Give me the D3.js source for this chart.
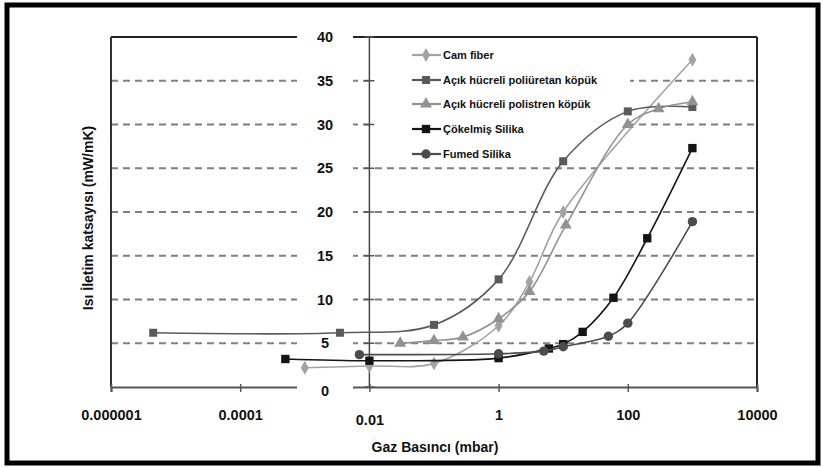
<!DOCTYPE html>
<html><head><meta charset="utf-8">
<script src="https://cdn.jsdelivr.net/npm/d3@7"></script>
<style>
html,body{margin:0;padding:0;background:#fff;}
text{font-family:"Liberation Sans",Arial,sans-serif;}
</style></head>
<body>
<svg id="chart" width="823" height="468"></svg>
<script>
// ---- data ----
const xTickValues = [1e-6, 1e-4, 1e-2, 1, 100, 10000];
const xTickLabels = ["0.000001", "0.0001", "0.01", "1", "100", "10000"];
const yTickValues = [0, 5, 10, 15, 20, 25, 30, 35, 40];
const seriesNames = ["Cam fiber", "Açık hücreli poliüretan köpük", "Açık hücreli polistren köpük", "Çökelmiş Silika", "Fumed Silika"];

const camX = [0.001, 0.01, 0.1, 1, 3, 10, 1000];
const camY = [2.2, 2.4, 2.7, 7.0, 12.0, 20.0, 37.4];
const puX = [4.5e-6, 0.0035, 0.1, 1, 10, 100, 1000];
const puY = [6.2, 6.2, 7.1, 12.3, 25.8, 31.5, 32.0];
const psX = [0.03, 0.1, 0.28, 1, 3, 11, 100, 300, 1000];
const psY = [5.0, 5.3, 5.7, 7.8, 10.9, 18.5, 30.0, 31.8, 32.6];
const prX = [0.0005, 0.01, 1, 6, 10, 20, 60, 200, 1000];
const prY = [3.2, 3.0, 3.3, 4.4, 4.9, 6.3, 10.2, 17.0, 27.3];
const fuX = [0.007, 1, 5, 10, 50, 100, 1000];
const fuY = [3.7, 3.8, 4.1, 4.6, 5.8, 7.3, 18.9];

// ---- setup ----
const svg = d3.select("#chart");
const L = 111, R = 757, T = 37, B = 387;
const x = d3.scaleLog().domain([1e-6, 1e4]).range([L, R]);
const y = d3.scaleLinear().domain([0, 40]).range([B, T]);

const styles = [
  {color: "#a3a3a3", sym: d3.symbolDiamond, size: 55},
  {color: "#5a5a5a", sym: d3.symbolSquare, size: 64},
  {color: "#929292", sym: d3.symbolTriangle, size: 62},
  {color: "#151515", sym: d3.symbolSquare, size: 70},
  {color: "#4c4c4c", sym: d3.symbolCircle, size: 70}
];
const series = [
  camX.map((v, i) => [v, camY[i]]),
  puX.map((v, i) => [v, puY[i]]),
  psX.map((v, i) => [v, psY[i]]),
  prX.map((v, i) => [v, prY[i]]),
  fuX.map((v, i) => [v, fuY[i]])
];

// outer frame
svg.append("rect").attr("x", 7).attr("y", 5).attr("width", 811).attr("height", 458)
  .attr("fill", "none").attr("stroke", "#000").attr("stroke-width", 5);

// gridlines
svg.append("g").selectAll("line").data(yTickValues.filter(v => v > 0 && v < 40)).join("line")
  .attr("x1", L).attr("x2", R).attr("y1", d => y(d)).attr("y2", d => y(d))
  .attr("stroke", "#7f7f7f").attr("stroke-width", 2).attr("stroke-dasharray", "7,5");

// plot frame
svg.append("line").attr("x1", L).attr("x2", R).attr("y1", T).attr("y2", T).attr("stroke", "#222").attr("stroke-width", 2);
svg.append("line").attr("x1", L).attr("x2", L).attr("y1", T).attr("y2", B).attr("stroke", "#333").attr("stroke-width", 2);
svg.append("line").attr("x1", R).attr("x2", R).attr("y1", T).attr("y2", B).attr("stroke", "#222").attr("stroke-width", 2);

// x axis
const xAxis = d3.axisBottom(x).tickValues(xTickValues)
  .tickFormat((d, i) => xTickLabels[i]).tickSize(5).tickPadding(18);
const gx = svg.append("g").attr("transform", `translate(0,${B})`).call(xAxis);
gx.select(".domain").attr("stroke", "#555").attr("stroke-width", 2);
gx.selectAll(".tick line").attr("stroke", "#555").attr("stroke-width", 1.5).attr("y1", -3);
gx.selectAll(".tick text").attr("font-size", 14.5).attr("font-weight", "bold")
  .attr("fill", "#111").attr("font-family", "Liberation Sans, Arial, sans-serif");
gx.selectAll(".tick").filter(d => d === 0.01).select("text").attr("dy", "1.05em");

// vertical axis at 0.01
svg.append("line").attr("x1", x(0.01)).attr("x2", x(0.01)).attr("y1", T).attr("y2", B)
  .attr("stroke", "#444").attr("stroke-width", 1.5);
svg.append("g").selectAll("line").data(yTickValues).join("line")
  .attr("x1", x(0.01) - 5).attr("x2", x(0.01) + 5).attr("y1", d => y(d)).attr("y2", d => y(d))
  .attr("stroke", "#555").attr("stroke-width", 1.5);

// y labels with white boxes
const gy = svg.append("g");
gy.selectAll("rect").data(yTickValues).join("rect")
  .attr("x", 297).attr("width", 56).attr("y", d => y(d) - 8 + (d === 0 ? 3 : 0)).attr("height", 16)
  .attr("fill", "#fff");
gy.selectAll("text").data(yTickValues).join("text")
  .attr("x", 325).attr("y", d => y(d) + (d === 0 ? 4 : 0)).attr("dy", "0.36em")
  .attr("text-anchor", "middle").attr("font-size", 14.5).attr("font-weight", "bold").attr("fill", "#111")
  .text(d => d);

// legend background (under the series lines)
const lgBg = svg.append("g");
[[375, 40, 255, 87], [375, 127, 202, 15], [375, 142, 165, 22]].forEach(r => {
  lgBg.append("rect").attr("x", r[0]).attr("y", r[1]).attr("width", r[2]).attr("height", r[3]).attr("fill", "#fff");
});

// series
const line = d3.line().x(d => x(d[0])).y(d => y(d[1])).curve(d3.curveCatmullRom.alpha(0.5));
series.forEach((s, i) => {
  const st = styles[i];
  svg.append("path").datum(s).attr("d", line).attr("fill", "none")
    .attr("stroke", st.color).attr("stroke-width", 1.6);
  svg.append("g").selectAll("path").data(s).join("path")
    .attr("transform", d => `translate(${x(d[0])},${y(d[1])})`)
    .attr("d", d3.symbol().type(st.sym).size(st.size)).attr("fill", st.color);
});

// legend entries
const lg = svg.append("g");
const legY = [55, 80, 104, 129, 154];
seriesNames.forEach((n, i) => {
  const st = styles[i];
  lg.append("line").attr("x1", 412).attr("x2", 441).attr("y1", legY[i]).attr("y2", legY[i])
    .attr("stroke", st.color).attr("stroke-width", 2.2);
  lg.append("path").attr("transform", `translate(426,${legY[i]})`)
    .attr("d", d3.symbol().type(st.sym).size(st.size)).attr("fill", st.color);
  lg.append("text").attr("x", 443).attr("y", legY[i]).attr("dy", "0.36em")
    .attr("font-size", 11).attr("font-weight", "bold").attr("fill", "#111").text(n);
});

// axis titles
svg.append("text").attr("x", 435).attr("y", 447).attr("dy", "0.36em").attr("text-anchor", "middle")
  .attr("font-size", 14).attr("font-weight", "bold").attr("fill", "#111").text("Gaz Basıncı (mbar)");
svg.append("text").attr("transform", "translate(88,218) rotate(-90)").attr("dy", "0.36em")
  .attr("text-anchor", "middle").attr("font-size", 14).attr("font-weight", "bold").attr("fill", "#111")
  .text("Isı İletim katsayısı (mW/mK)");
</script>
</body></html>
